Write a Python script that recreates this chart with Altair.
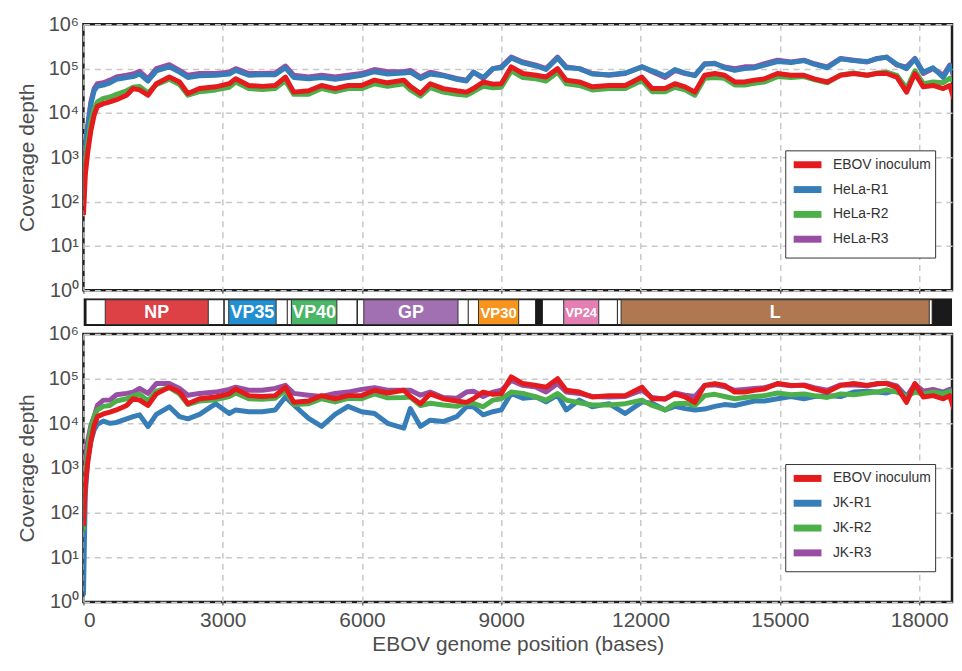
import altair as alt
import pandas as pd

# ---------------- data (log10 of coverage depth) ----------------
positions = [0, 40, 90, 160, 230, 300, 430, 570, 710, 930,
             1070, 1210, 1390, 1570, 1850, 2070, 2250, 2500, 2850, 3140,
             3280, 3560, 3850, 4130, 4350, 4530, 4850, 5130, 5420, 5700,
             5990, 6270, 6550, 6900, 7040, 7260, 7470, 7750, 8040, 8250,
             8400, 8610, 8820, 9000, 9215, 9465, 9750, 9964, 10213, 10400,
             10680, 10960, 11320, 11670, 12030, 12250, 12530, 12740, 12960, 13170,
             13380, 13600, 13810, 14030, 14240, 14450, 14670, 14950, 15240, 15520,
             15740, 16020, 16310, 16590, 16880, 17090, 17300, 17520, 17730, 17910,
             18090, 18300, 18520, 18660, 18773]

inoculum = [1.7, 2.6, 3.1, 3.6, 3.95, 4.15, 4.21, 4.25, 4.3, 4.4,
            4.55, 4.52, 4.4, 4.66, 4.81, 4.7, 4.44, 4.55, 4.59, 4.66,
            4.77, 4.62, 4.6, 4.62, 4.81, 4.47, 4.5, 4.62, 4.55, 4.62,
            4.62, 4.74, 4.68, 4.74, 4.6, 4.44, 4.66, 4.55, 4.5, 4.47,
            4.55, 4.7, 4.65, 4.66, 5.04, 4.89, 4.85, 4.81, 5.0, 4.74,
            4.7, 4.59, 4.62, 4.62, 4.81, 4.55, 4.55, 4.66, 4.59, 4.47,
            4.85, 4.89, 4.85, 4.7, 4.7, 4.74, 4.77, 4.89, 4.85, 4.85,
            4.77, 4.7, 4.85, 4.89, 4.85, 4.89, 4.89, 4.81, 4.47, 4.89,
            4.59, 4.62, 4.55, 4.62, 4.25]

hela_r1 = [2.2, 3.3, 3.65, 4.2, 4.5, 4.6, 4.63, 4.68, 4.76, 4.8,
           4.82, 4.88, 4.72, 4.95, 5.04, 4.92, 4.8, 4.84, 4.85, 4.88,
           4.96, 4.85, 4.86, 4.86, 5.02, 4.8, 4.77, 4.8, 4.76, 4.8,
           4.85, 4.93, 4.88, 4.9, 4.92, 4.78, 4.88, 4.84, 4.76, 4.72,
           4.92, 4.8, 5.0, 5.02, 5.24, 5.13, 5.06, 4.98, 5.24, 5.02,
           5.0, 4.88, 4.86, 4.9, 5.04, 4.95, 4.84, 4.98, 4.9, 4.84,
           5.1, 5.12, 5.02, 4.96, 5.0, 5.02, 5.08, 5.16, 5.14, 5.18,
           5.1, 5.02, 5.22, 5.18, 5.16, 5.22, 5.26, 5.1, 5.0, 5.22,
           4.92, 5.02, 4.8, 5.06, 4.85]

hela_r2 = [1.9, 2.9, 3.3, 3.8, 4.1, 4.25, 4.33, 4.36, 4.42, 4.5,
           4.58, 4.6, 4.45, 4.64, 4.76, 4.64, 4.4, 4.48, 4.52, 4.58,
           4.7, 4.55, 4.53, 4.55, 4.73, 4.42, 4.42, 4.55, 4.48, 4.55,
           4.55, 4.66, 4.6, 4.66, 4.52, 4.38, 4.57, 4.47, 4.42, 4.4,
           4.48, 4.6, 4.57, 4.58, 4.95, 4.8, 4.77, 4.72, 4.92, 4.66,
           4.62, 4.52, 4.55, 4.55, 4.73, 4.48, 4.48, 4.58, 4.52, 4.4,
           4.78, 4.8, 4.78, 4.63, 4.63, 4.67, 4.7, 4.82, 4.8, 4.82,
           4.75, 4.68, 4.86, 4.9, 4.85, 4.9, 4.92, 4.85, 4.55, 4.95,
           4.66, 4.7, 4.68, 4.78, 4.7]

hela_r3 = [2.1, 3.3, 3.7, 4.25, 4.55, 4.66, 4.68, 4.74, 4.81, 4.85,
           4.88, 4.94, 4.77, 5.0, 5.09, 4.96, 4.85, 4.89, 4.89, 4.92,
           5.0, 4.89, 4.89, 4.9, 5.06, 4.85, 4.81, 4.85, 4.81, 4.85,
           4.89, 4.98, 4.93, 4.93, 4.96, 4.81, 4.92, 4.85, 4.78, 4.74,
           4.92, 4.78, 5.0, 5.04, 5.26, 5.15, 5.08, 5.0, 5.26, 5.04,
           5.0, 4.89, 4.85, 4.89, 5.04, 4.93, 4.8, 4.96, 4.89, 4.85,
           5.11, 5.11, 5.04, 5.0, 5.04, 5.04, 5.11, 5.19, 5.15, 5.19,
           5.11, 5.04, 5.23, 5.19, 5.15, 5.23, 5.26, 5.08, 5.04, 5.23,
           4.89, 5.0, 4.85, 5.08, 4.77]

jk_r1 = [0.15, 2.4, 3.2, 3.6, 3.85, 3.98, 4.05, 4.0, 4.02, 4.1,
         4.15, 4.19, 3.93, 4.2, 4.37, 4.15, 4.1, 4.2, 4.44, 4.22,
         4.3, 4.26, 4.26, 4.3, 4.59, 4.41, 4.11, 3.93, 4.2, 4.38,
         4.26, 4.22, 4.0, 3.89, 4.33, 3.93, 4.07, 4.04, 4.15, 4.37,
         4.37, 4.19, 4.26, 4.3, 4.67, 4.56, 4.59, 4.48, 4.63, 4.3,
         4.52, 4.37, 4.44, 4.22, 4.48, 4.45, 4.3, 4.38, 4.33, 4.3,
         4.32, 4.38, 4.42, 4.4, 4.45, 4.5, 4.5, 4.55, 4.6, 4.55,
         4.6, 4.62, 4.6, 4.7, 4.72, 4.7, 4.68, 4.75, 4.62, 4.72,
         4.65, 4.7, 4.68, 4.72, 4.6]

jk_r2 = [1.6, 2.8, 3.4, 3.9, 4.15, 4.3, 4.38, 4.4, 4.5, 4.55,
         4.62, 4.65, 4.5, 4.72, 4.8, 4.66, 4.42, 4.5, 4.53, 4.6,
         4.68, 4.55, 4.54, 4.56, 4.74, 4.42, 4.44, 4.55, 4.48, 4.56,
         4.55, 4.66, 4.57, 4.58, 4.59, 4.4, 4.45, 4.41, 4.38, 4.45,
         4.45, 4.37, 4.52, 4.55, 4.7, 4.67, 4.59, 4.52, 4.67, 4.52,
         4.46, 4.41, 4.41, 4.44, 4.52, 4.4, 4.3, 4.44, 4.45, 4.4,
         4.62, 4.65, 4.6, 4.55, 4.58, 4.6, 4.62, 4.68, 4.64, 4.66,
         4.62, 4.58, 4.66, 4.64, 4.68, 4.7, 4.75, 4.7, 4.6, 4.7,
         4.66, 4.7, 4.66, 4.72, 4.6]

jk_r3 = [2.9, 3.3, 3.6, 3.95, 4.15, 4.4, 4.52, 4.52, 4.64, 4.67,
         4.7, 4.78, 4.67, 4.89, 4.89, 4.78, 4.63, 4.67, 4.7, 4.76,
         4.81, 4.74, 4.74, 4.78, 4.85, 4.67, 4.63, 4.6, 4.67, 4.7,
         4.76, 4.8, 4.74, 4.74, 4.74, 4.63, 4.7, 4.58, 4.56, 4.7,
         4.72, 4.6, 4.7, 4.74, 4.96, 4.85, 4.81, 4.7, 4.89, 4.7,
         4.67, 4.6, 4.59, 4.6, 4.74, 4.58, 4.54, 4.68, 4.63, 4.6,
         4.85, 4.86, 4.82, 4.74, 4.76, 4.78, 4.8, 4.88, 4.84, 4.86,
         4.8, 4.74, 4.86, 4.86, 4.84, 4.88, 4.9, 4.84, 4.6, 4.88,
         4.72, 4.76, 4.7, 4.76, 4.6]

top_names = ["EBOV inoculum", "HeLa-R1", "HeLa-R2", "HeLa-R3"]
bottom_names = ["EBOV inoculum", "JK-R1", "JK-R2", "JK-R3"]

gene_names = ["NP", "VP35", "VP40", "GP", "VP30", "VP24", "L"]
gene_start = [56, 3032, 4390, 5900, 8288, 9885, 11501]
gene_end = [3026, 4407, 5894, 8305, 9740, 11518, 18282]
cds_start = [470, 3129, 4479, 6039, 8509, 10345, 11581]
cds_end = [2689, 4151, 5459, 8068, 9375, 11100, 18219]
genome_length = 18959

x_ticks = [0, 3000, 6000, 9000, 12000, 15000, 18000]
y_ticks = [1, 10, 100, 1000, 10000, 100000, 1000000]

# ---------------- styling ----------------
FONT = "Liberation Sans"
GREY = "#4d4d4d"
SERIES_COLORS = ["#e41a1c", "#377eb8", "#4daf4a", "#984ea3"]
GENE_COLORS = ["#dd4146", "#2290d0", "#4ab766", "#a070b0", "#f7941d", "#e47fb4", "#b07850"]
PLOT_W = 875
X_MAX = 18709

xscale = alt.Scale(domain=[0, X_MAX], nice=False, zero=False)
yscale = alt.Scale(type="log", domain=[1, 1000000], nice=False)

sup = "'10' + ['\u2070','\u00b9','\u00b2','\u00b3','\u2074','\u2075','\u2076'][round(log(datum.value)/LN10)]"


def build(names, arrays):
    rows = []
    for name, vals in zip(names, arrays):
        for p, v in zip(positions, vals):
            rows.append({"pos": p, "depth": 10 ** v, "series": name})
    return pd.DataFrame(rows)


def panel(names, arrays, bottom, height, legend_y):
    df = build(names, arrays)
    if bottom:
        xaxis = alt.Axis(values=x_ticks, format="d", title="EBOV genome position (bases)",
                         labelFontSize=21, titleFontSize=21, tickSize=3, labelPadding=5,
                         titlePadding=3, domain=False)
    else:
        xaxis = alt.Axis(values=x_ticks, labels=False, title=None, tickSize=3, domain=False)
    yaxis = alt.Axis(values=y_ticks, labelExpr=sup, title="Coverage depth", labelFontSize=20,
                     titleFontSize=21, ticks=False, labelPadding=5, titlePadding=10, domain=False)
    legend = alt.Legend(title=None, orient="none", legendX=707, legendY=legend_y,
                        symbolType="M-2,0L2,0", symbolStrokeWidth=7, symbolSize=196,
                        symbolOffset=8, labelOffset=15,
                        labelFontSize=14, labelFont=FONT, labelColor="#333",
                        strokeColor="#333", fillColor="white", padding=4, rowPadding=-11.1)
    color = alt.Color("series:N", scale=alt.Scale(domain=names, range=SERIES_COLORS),
                      legend=legend)
    order = [names[3], names[1], names[2], names[0]]
    layers = []
    for nm in order:
        layers.append(
            alt.Chart(df).transform_filter(alt.datum.series == nm)
            .mark_line(strokeWidth=5, clip=True, strokeJoin="round")
            .encode(x=alt.X("pos:Q", scale=xscale, axis=xaxis),
                    y=alt.Y("depth:Q", scale=yscale, axis=yaxis),
                    color=color)
        )
    return alt.layer(*layers).properties(width=PLOT_W, height=height)


top = panel(top_names, [inoculum, hela_r1, hela_r2, hela_r3], False, 268, 127)
bottom = panel(bottom_names, [inoculum, jk_r1, jk_r2, jk_r3], True, 270, 131)

genes = pd.DataFrame({"gene": gene_names, "gstart": gene_start, "gend": gene_end,
                      "cstart": cds_start, "cend": cds_end})
backbone = pd.DataFrame({"s": [0], "e": [genome_length]})

bg = alt.Chart(backbone).mark_rect(color="#1a1a1a", clip=True).encode(
    x=alt.X("s:Q", scale=xscale, axis=None), x2="e:Q", y=alt.value(0), y2=alt.value(28))
gene_boxes = alt.Chart(genes).mark_rect(fill="white", stroke="#1a1a1a", strokeWidth=1, clip=True).encode(
    x=alt.X("gstart:Q", scale=xscale, axis=None), x2="gend:Q", y=alt.value(1.5), y2=alt.value(26.5))
cds_boxes = alt.Chart(genes).mark_rect(stroke="#333", strokeWidth=1, clip=True).encode(
    x=alt.X("cstart:Q", scale=xscale, axis=None), x2="cend:Q", y=alt.value(1.5), y2=alt.value(26.5),
    color=alt.Color("gene:N", scale=alt.Scale(domain=gene_names, range=GENE_COLORS), legend=None))
wide_labels = alt.Chart(genes).transform_filter(
    alt.FieldOneOfPredicate(field="gene", oneOf=["NP", "VP35", "VP40", "GP", "L"])
).transform_calculate(mid="(datum.cstart + datum.cend) / 2").mark_text(
    color="white", fontWeight="bold", fontSize=18, font=FONT, baseline="middle").encode(
    x=alt.X("mid:Q", scale=xscale, axis=None), y=alt.value(14.5), text="gene:N")
narrow30 = alt.Chart(genes).transform_filter(alt.datum.gene == "VP30").transform_calculate(
    mid="(datum.cstart + datum.cend) / 2").mark_text(
    color="white", fontWeight="bold", fontSize=15, font=FONT, baseline="middle").encode(
    x=alt.X("mid:Q", scale=xscale, axis=None), y=alt.value(14.5), text="gene:N")
narrow24 = alt.Chart(genes).transform_filter(alt.datum.gene == "VP24").transform_calculate(
    mid="(datum.cstart + datum.cend) / 2").mark_text(
    color="white", fontWeight="bold", fontSize=13, font=FONT, baseline="middle").encode(
    x=alt.X("mid:Q", scale=xscale, axis=None), y=alt.value(14.5), text="gene:N")

band = alt.layer(bg, gene_boxes, cds_boxes, wide_labels, narrow30, narrow24).properties(
    width=PLOT_W, height=28, view=alt.ViewBackground(strokeWidth=0))

chart = alt.vconcat(top, band, bottom, spacing=8, bounds="flush").resolve_scale(
    color="independent").resolve_legend(color="independent").properties(
    padding={"left": 7, "top": 2, "right": 0, "bottom": 0}
).configure_view(stroke="#1e1e1e", strokeWidth=2.5).configure_axis(
    labelFont=FONT, titleFont=FONT, labelColor=GREY, titleColor=GREY,
    titleFontWeight="normal", gridColor="#c8c8c8", gridDash=[6, 5], gridWidth=1.5,
    tickColor="#333")

chart.save("out.html", embed_options={"renderer": "svg", "actions": False})
